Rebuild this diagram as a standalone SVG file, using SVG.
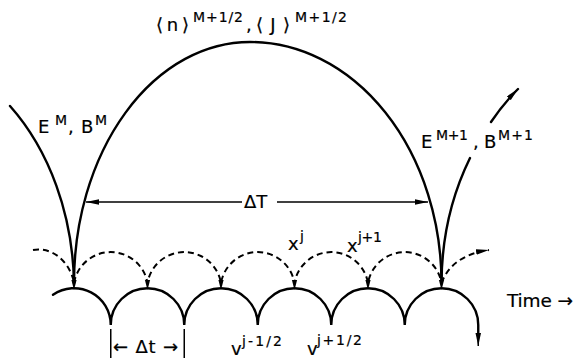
<svg xmlns="http://www.w3.org/2000/svg" width="574" height="358" viewBox="0 0 574 358">
<style>
.s{fill:none;stroke:#000;stroke-width:2.4;stroke-linecap:round}
.d{fill:none;stroke:#000;stroke-width:2;stroke-dasharray:6 4}
.t{fill:none;stroke:#000;stroke-width:1.5}
text{font-family:"DejaVu Sans","Liberation Sans",Arial,sans-serif;fill:#000;stroke:#000;stroke-width:0.2}
.m{font-size:18px}
.p{font-size:14px}
</style>
<defs>
<marker id="ah" markerUnits="userSpaceOnUse" markerWidth="14" markerHeight="6" refX="13" refY="2.75" orient="auto">
<path d="M0,0 L13,2.75 L0,5.5 z" fill="#000"/>
</marker>
<path id="cusp" d="M-2.6,280 L2.6,280 L0,290 z" fill="#000"/>
</defs>
<g id="connectors">
<g id="big-arc">
<path class="s" d="M74,283 A176,241 0 0 1 250,42 A191.5,241 0 0 1 441.5,283"/>
<path class="s" d="M10,106 A184,241 0 0 1 74,283"/>
<path class="s" d="M441.5,283 A191.5,241 0 0 1 470,158"/>
<path class="s" d="M491,122 A191.5,241 0 0 1 518,89" marker-end="url(#ah)"/>
</g>
<g id="dT-arrow">
<path class="t" d="M242,202 L86,202" marker-end="url(#ah)"/>
<path class="t" d="M277,202 L428,202" marker-end="url(#ah)"/>
</g>
<g id="dashed">
<path class="d" d="M33,250 C50,247 68,258 74,282"/>
<path class="d" d="M74,283 A37.3,37.3 0 0 1 147.5,283 A37.3,37.3 0 0 1 221,283 A37.3,37.3 0 0 1 294.5,283 A37.3,37.3 0 0 1 368,283 A37.3,37.3 0 0 1 441.5,283"/>
<path class="d" d="M441.5,283 C448,266 462,254 489,250" marker-end="url(#ah)"/>
<use href="#cusp" x="74"/>
<use href="#cusp" x="147.5"/>
<use href="#cusp" x="221"/>
<use href="#cusp" x="294.5"/>
<use href="#cusp" x="368"/>
<use href="#cusp" x="441.5"/>
</g>
<g id="solid">
<path class="s" d="M53,294.8 A36.75,36.75 0 0 1 110.75,325 A36.75,36.75 0 0 1 184.25,325 A36.75,36.75 0 0 1 257.75,325 A36.75,36.75 0 0 1 331.25,325 A36.75,36.75 0 0 1 404.75,325 A36.75,36.75 0 0 1 478.25,325 L478.25,334"/>
<path class="t" d="M478.25,333 L478.25,346" marker-end="url(#ah)"/>
</g>
<g id="dt-ticks">
<path class="t" d="M110.75,329 L110.75,358 M184.25,329 L184.25,358"/>
</g>
</g>
<g id="label-top">
<text class="m" x="156" y="31" textLength="33" lengthAdjust="spacing">⟨n⟩</text>
<text class="p" x="193" y="22" textLength="50" lengthAdjust="spacing">M+1/2</text>
<text class="m" x="246" y="31">,</text>
<text class="m" x="256" y="31" textLength="34" lengthAdjust="spacing">⟨J⟩</text>
<text class="p" x="295" y="22" textLength="52" lengthAdjust="spacing">M+1/2</text>
</g>
<g id="label-EM">
<text class="m" x="38" y="133">E</text>
<text class="p" x="55" y="125">M</text>
<text class="m" x="68" y="133">,</text>
<text class="m" x="81" y="133">B</text>
<text class="p" x="95" y="125">M</text>
</g>
<g id="label-EM1">
<text class="m" x="421" y="148">E</text>
<text class="p" x="436" y="140" textLength="32" lengthAdjust="spacing">M+1</text>
<text class="m" x="473" y="148">,</text>
<text class="m" x="484" y="148">B</text>
<text class="p" x="498" y="140" textLength="35" lengthAdjust="spacing">M+1</text>
</g>
<g id="label-dT">
<text class="m" x="244" y="208">ΔT</text>
</g>
<g id="label-x">
<text class="m" x="288" y="250">x</text>
<text class="p" x="300" y="241">j</text>
<text class="m" x="347" y="252">x</text>
<text class="p" x="358" y="242" textLength="24" lengthAdjust="spacing">j+1</text>
</g>
<g id="label-v">
<text class="m" x="231" y="355">v</text>
<text class="p" x="242" y="346" textLength="40" lengthAdjust="spacing">j-1/2</text>
<text class="m" x="307" y="355">v</text>
<text class="p" x="317" y="345" textLength="45" lengthAdjust="spacing">j+1/2</text>
</g>
<g id="label-dt">
<text class="m" x="113" y="353" textLength="65" lengthAdjust="spacing">← Δt →</text>
</g>
<g id="label-time">
<text x="507" y="307" font-size="18.5" textLength="66" lengthAdjust="spacing">Time →</text>
</g>
</svg>
